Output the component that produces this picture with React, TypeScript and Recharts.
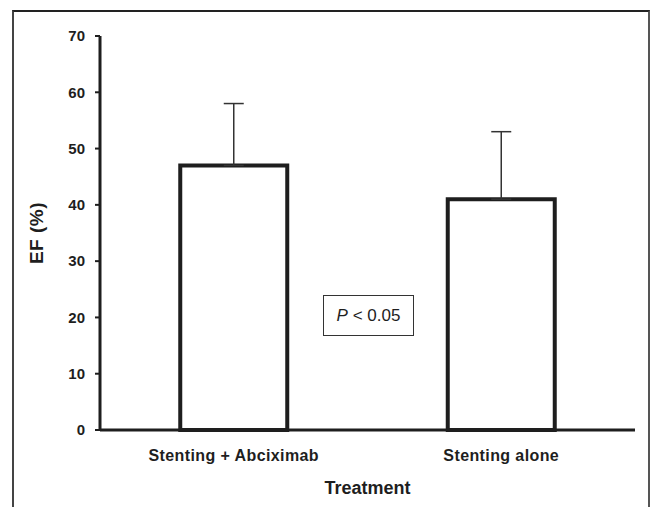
import { BarChart, Bar, XAxis, YAxis, ErrorBar } from "recharts"

const treatments = ["Stenting + Abciximab", "Stenting alone"]
const efMean = [47, 41]
const efSdUp = [11, 12]
const yTicks = [0, 10, 20, 30, 40, 50, 60, 70]
const boundaryTicks = [0, 1, 2]

const data = treatments.map((name, i) => ({
  name,
  ef: efMean[i],
  err: [0, efSdUp[i]],
}))

const FONT = "'Liberation Sans', Arial, sans-serif"
const INK = "#1e1e1e"

export default function App() {
  return (
    <div
      style={{
        position: "absolute",
        left: 0,
        top: 0,
        width: 654,
        height: 507,
        background: "#fff",
        overflow: "hidden",
        fontFamily: FONT,
      }}
    >
      {/* outer frame, open at the bottom */}
      <div
        style={{
          position: "absolute",
          left: 12,
          top: 10,
          width: 638,
          height: 520,
          borderTop: "2px solid #222",
          borderLeft: "2px solid #444",
          borderRight: "2px solid #555",
          boxSizing: "border-box",
        }}
      />
      <BarChart
        width={654}
        height={507}
        data={data}
        margin={{ top: 36, right: 19, left: 0, bottom: 0 }}
        barCategoryGap="30%"
        style={{ position: "absolute", left: 0, top: 0 }}
      >
        {/* axis line with ticks at the category boundaries */}
        <XAxis
          xAxisId={0}
          type="number"
          domain={[0, 2]}
          ticks={boundaryTicks}
          allowDataOverflow
          tick={false}
          height={1}
          tickSize={5}
          axisLine={{ stroke: INK, strokeWidth: 3 }}
          tickLine={{ stroke: INK, strokeWidth: 2 }}
        />
        <XAxis
          xAxisId="cat"
          dataKey="name"
          height={76}
          axisLine={false}
          tickLine={false}
          tickMargin={13}
          tick={{ fill: INK, fontSize: 16, fontWeight: "bold", fontFamily: FONT, letterSpacing: 0.4 }}
          label={{
            value: "Treatment",
            position: "insideBottom",
            offset: 13,
            style: { fill: INK, fontSize: 18, fontWeight: "bold", fontFamily: FONT },
          }}
        />
        <YAxis
          width={100}
          domain={[0, 70]}
          ticks={yTicks}
          interval={0}
          tickSize={5}
          tickMargin={10}
          axisLine={{ stroke: INK, strokeWidth: 3 }}
          tickLine={{ stroke: INK, strokeWidth: 2 }}
          tick={{ fill: INK, fontSize: 15, fontWeight: "bold", fontFamily: FONT }}
          label={{
            value: "EF (%)",
            angle: -90,
            position: "insideLeft",
            offset: 36,
            style: { textAnchor: "middle", fill: INK, fontSize: 19, fontWeight: "bold", fontFamily: FONT, letterSpacing: 0.5 },
          }}
        />
        <Bar xAxisId="cat" dataKey="ef" fill="#fff" stroke={INK} strokeWidth={4} isAnimationActive={false}>
          <ErrorBar dataKey="err" direction="y" width={10} stroke="#333" strokeWidth={1.5} />
        </Bar>
      </BarChart>
      {/* significance annotation */}
      <div
        style={{
          position: "absolute",
          left: 323,
          top: 295,
          width: 91,
          height: 41,
          border: "1px solid #333",
          boxSizing: "border-box",
          display: "flex",
          alignItems: "center",
          justifyContent: "center",
          fontSize: 17,
          color: INK,
          fontFamily: FONT,
        }}
      >
        <span style={{ fontStyle: "italic" }}>P</span>
        <span>&nbsp;&lt; 0.05</span>
      </div>
    </div>
  )
}
